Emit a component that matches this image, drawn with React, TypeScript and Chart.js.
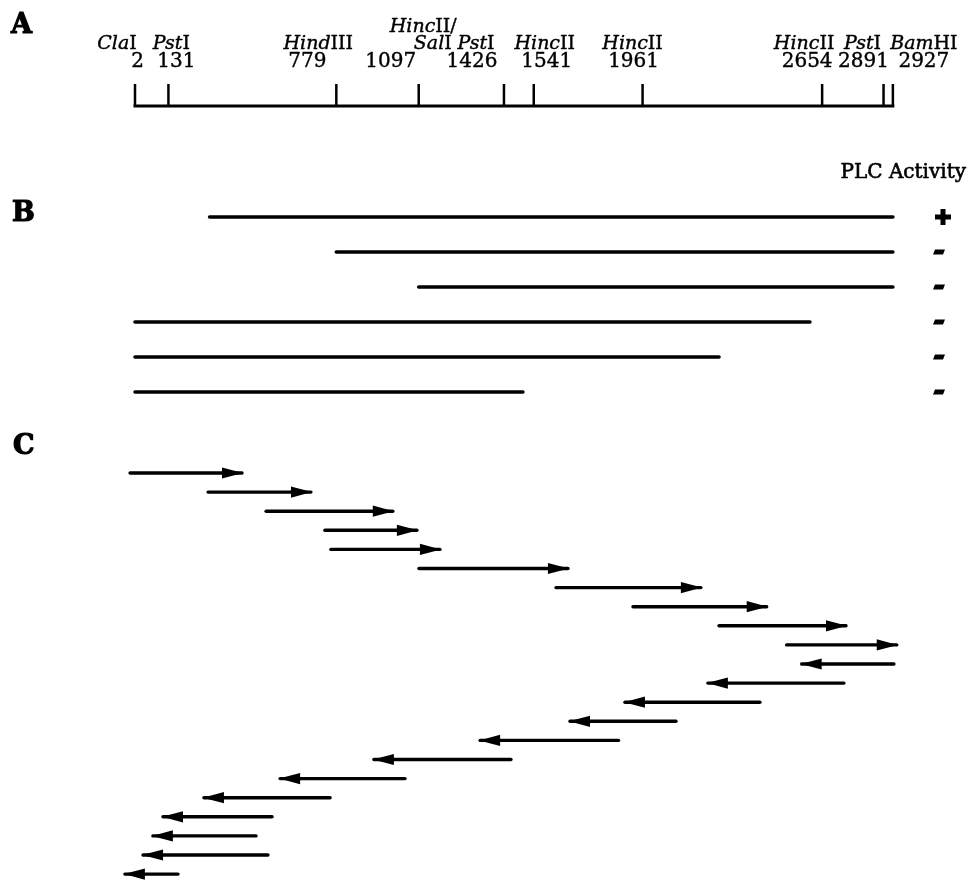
import React, { useEffect, useRef } from 'react';
import { Chart, registerables } from 'chart.js';

Chart.register(...registerables);

// ---------- DATA ----------
// Panel A: restriction map (bp positions)
const siteNames = ['ClaI', 'PstI', 'HindIII', 'HincII/SalI', 'PstI', 'HincII', 'HincII', 'HincII', 'PstI', 'BamHI'];
const sitePositions = [2, 131, 779, 1097, 1426, 1541, 1961, 2654, 2891, 2927];
const mapStart = 2;
const mapEnd = 2927;

// Panel B: subclone fragments (bp) and PLC activity
const fragmentStarts = [290, 779, 1097, 2, 2, 2];
const fragmentEnds = [2927, 2927, 2927, 2607, 2256, 1499];
const plcActivity = ['+', '-', '-', '-', '-', '-'];

// Panel C: sequencing reads (from -> to, arrow head at "to"), bp
const readFrom = [-17, 284, 508, 735, 758, 1098, 1627, 1924, 2256, 2517, 2931, 2738, 2414, 2090, 1868, 1453, 1044, 755, 531, 469, 515, 168];
const readTo = [415, 681, 997, 1090, 1179, 1673, 2186, 2440, 2746, 2942, 2575, 2213, 1893, 1681, 1334, 924, 562, 268, 110, 71, 33, -37];

// ---------- LAYOUT / STYLE ----------
const W = 967;
const H = 880;
const SERIF = '"DejaVu Serif", serif';
const INK = '#000';
const NAME_DX = [-18, 3, -18, 38, -28, 11, -10, -18, -21, 31];
const NUM_DX = [2.5, 8, -29, -28, -32, 13, -9, -15, -20, 31];
const NAME_Y = 49;
const NAME_Y2 = 32;
const NUM_Y = 67;
const SIGN_X = 940;

function splitEnzyme(name: string) {
  const m = name.match(/^(.*?)([IVX]+|HI)(\/?)$/);
  if (!m) return [{ t: name, it: true }];
  return [
    { t: m[1], it: true },
    { t: m[2] + m[3], it: false },
  ];
}

function heavyText(ctx: CanvasRenderingContext2D, t: string, x: number, y: number, w = 0.4) {
  ctx.fillText(t, x, y);
  ctx.lineWidth = w;
  ctx.strokeText(t, x, y);
}

function drawEnzyme(ctx: CanvasRenderingContext2D, name: string, x: number, y: number, align: 'center' | 'right', size: number) {
  const parts = splitEnzyme(name);
  const fonts = parts.map((p) => (p.it ? `italic ${size}px ${SERIF}` : `${size}px ${SERIF}`));
  let total = 0;
  const widths = parts.map((p, i) => {
    ctx.font = fonts[i];
    const w = ctx.measureText(p.t).width;
    total += w;
    return w;
  });
  let sx = align === 'center' ? x - total / 2 : x - total;
  ctx.textAlign = 'left';
  ctx.textBaseline = 'alphabetic';
  parts.forEach((p, i) => {
    ctx.font = fonts[i];
    heavyText(ctx, p.t, sx, y);
    sx += widths[i];
  });
}

const figurePlugin = {
  id: 'figureDecor',
  beforeDraw(chart: any) {
    const ctx = chart.ctx;
    ctx.save();
    ctx.fillStyle = '#fff';
    ctx.fillRect(0, 0, chart.width, chart.height);
    ctx.restore();
  },
  afterDatasetsDraw(chart: any) {
    const ctx: CanvasRenderingContext2D = chart.ctx;
    const xs = chart.scales.x;
    const yB = chart.scales.yB;
    const yC = chart.scales.yC;
    ctx.save();
    ctx.fillStyle = INK;
    ctx.strokeStyle = INK;
    ctx.lineJoin = 'round';

    // Panel letters
    ctx.font = `bold 27px ${SERIF}`;
    ctx.textAlign = 'left';
    ctx.textBaseline = 'alphabetic';
    heavyText(ctx, 'A', 11, 33, 1.2);
    heavyText(ctx, 'B', 12, 221, 1.2);
    heavyText(ctx, 'C', 13, 454, 1.2);

    // Site labels
    sitePositions.forEach((bp, i) => {
      const px = xs.getPixelForValue(bp);
      const name = siteNames[i];
      if (name.includes('/')) {
        const [a, b] = name.split('/');
        drawEnzyme(ctx, a + '/', px + NAME_DX[i], NAME_Y2, 'right', 19);
        drawEnzyme(ctx, b, px + NAME_DX[i] - 5, NAME_Y, 'right', 19);
      } else {
        drawEnzyme(ctx, name, px + NAME_DX[i], NAME_Y, 'center', 19);
      }
      ctx.font = `20px ${SERIF}`;
      ctx.textAlign = 'center';
      heavyText(ctx, String(bp), px + NUM_DX[i], NUM_Y);
    });

    // PLC Activity header
    ctx.font = `20px ${SERIF}`;
    ctx.textAlign = 'right';
    heavyText(ctx, 'PLC Activity', 966, 178, 0.6);

    // +/- signs
    plcActivity.forEach((s, i) => {
      const py = yB.getPixelForValue(i);
      if (s === '+') {
        const cx = SIGN_X + 3;
        ctx.fillRect(cx - 8, py - 2.5, 16, 5);
        ctx.fillRect(cx - 2.5, py - 8, 5, 16);
      } else {
        const cx = SIGN_X - 1;
        ctx.beginPath();
        ctx.moveTo(cx - 4, py - 2.4);
        ctx.lineTo(cx + 6, py - 2.4);
        ctx.lineTo(cx + 4, py + 2.4);
        ctx.lineTo(cx - 6, py + 2.4);
        ctx.closePath();
        ctx.fill();
      }
    });

    // Arrow heads (long solid triangles)
    readTo.forEach((bp, i) => {
      const tx = xs.getPixelForValue(bp);
      const ty = yC.getPixelForValue(i);
      const d = Math.sign(bp - readFrom[i]) || 1;
      const L = 20;
      const h = 5.6;
      ctx.beginPath();
      ctx.moveTo(tx + d * 1, ty);
      ctx.lineTo(tx - d * L, ty - h);
      ctx.lineTo(tx - d * L, ty + h);
      ctx.closePath();
      ctx.fill();
    });

    ctx.restore();
  },
};

export default function App() {
  const ref = useRef<HTMLCanvasElement | null>(null);

  useEffect(() => {
    if (!ref.current) return;
    const datasets: any[] = [];
    const lineBase = {
      showLine: true,
      pointRadius: 0,
      pointHoverRadius: 0,
      borderColor: INK,
      backgroundColor: INK,
      fill: false,
      tension: 0,
    };

    // Map baseline
    datasets.push({
      ...lineBase,
      data: [{ x: mapStart, y: 0 }, { x: mapEnd, y: 0 }],
      yAxisID: 'yA',
      borderWidth: 3,
      borderCapStyle: 'square',
    });
    // Map ticks
    sitePositions.forEach((bp) => {
      datasets.push({
        ...lineBase,
        data: [{ x: bp, y: 0 }, { x: bp, y: 1 }],
        yAxisID: 'yA',
        borderWidth: 2.5,
        borderCapStyle: 'butt',
      });
    });
    // Panel B fragments
    fragmentStarts.forEach((s, i) => {
      datasets.push({
        ...lineBase,
        data: [{ x: s, y: i }, { x: fragmentEnds[i], y: i }],
        yAxisID: 'yB',
        borderWidth: 3.6,
        borderCapStyle: 'round',
      });
    });
    // Panel C reads
    readFrom.forEach((s, i) => {
      datasets.push({
        ...lineBase,
        data: [{ x: s, y: i }, { x: readTo[i], y: i }],
        yAxisID: 'yC',
        borderWidth: 3.4,
        borderCapStyle: 'round',
      });
    });

    // px per bp: 0.2591, bp 2 at x=135
    const k = 0.2591;
    const xMin = 2 - 135 / k;
    const xMax = xMin + W / k;

    const chart = new Chart(ref.current, {
      type: 'scatter',
      data: { datasets },
      options: {
        animation: false,
        responsive: false,
        devicePixelRatio: 1,
        layout: { padding: 0 },
        events: [],
        plugins: {
          legend: { display: false },
          tooltip: { enabled: false },
          title: { display: false },
        },
        scales: {
          x: { type: 'linear', min: xMin, max: xMax, display: false },
          // map: value 0 at y=106, 1 at y=84
          yA: { type: 'linear', min: -(H - 106) / 22, max: -(H - 106) / 22 + H / 22, display: false },
          // panel B rows: row 0 at y=217, 35px spacing
          yB: { type: 'linear', reverse: true, min: -217 / 35, max: -217 / 35 + H / 35, display: false },
          // panel C rows: row 0 at y=473, 19.1px spacing
          yC: { type: 'linear', reverse: true, min: -473 / 19.1, max: -473 / 19.1 + H / 19.1, display: false },
        },
      } as any,
      plugins: [figurePlugin],
    });
    return () => chart.destroy();
  }, []);

  return (
    <div style={{ position: 'absolute', left: 0, top: 0, width: W, height: H, background: '#fff' }}>
      <canvas ref={ref} width={W} height={H} style={{ display: 'block' }} />
    </div>
  );
}
